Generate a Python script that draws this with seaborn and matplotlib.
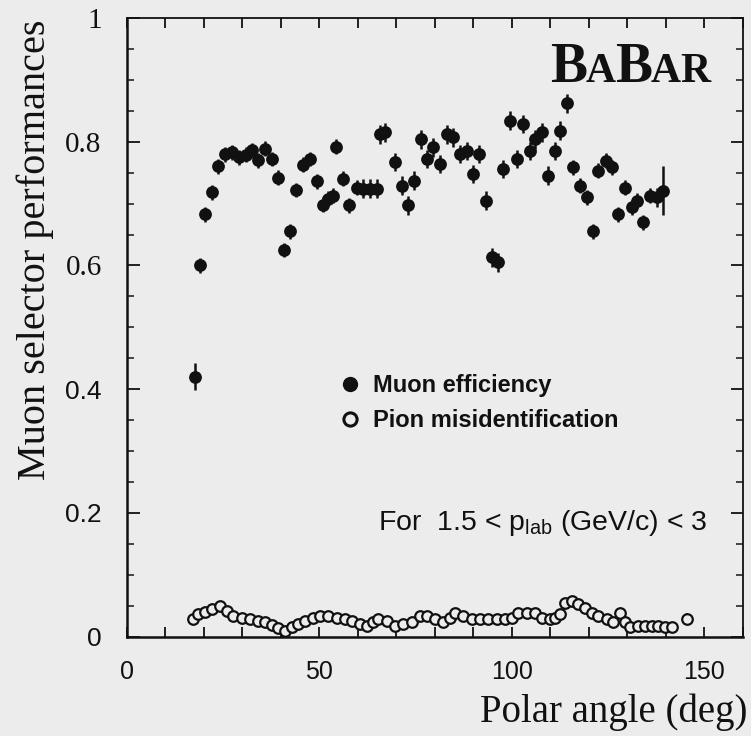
import matplotlib
matplotlib.use("Agg")
import matplotlib.pyplot as plt
import seaborn as sns
import pandas as pd
from matplotlib.lines import Line2D
from matplotlib.ticker import MultipleLocator, FixedLocator

# ---------------- data ----------------
muon_angle = [17.7, 19.1, 20.4, 22.2, 23.8, 25.5, 27.3, 29.2, 31.0, 32.5,
              34.0, 35.9, 37.7, 39.2, 40.9, 42.4, 44.0, 45.9, 47.6, 49.3,
              50.9, 52.4, 53.6, 54.3, 56.1, 57.8, 59.7, 61.5, 63.3, 65.0,
              65.8, 67.1, 69.7, 71.4, 73.1, 74.7, 76.4, 77.9, 79.6, 81.4,
              83.1, 84.8, 86.6, 88.3, 89.9, 91.6, 93.2, 94.8, 96.5, 97.8,
              99.6, 101.3, 103.0, 104.8, 106.1, 107.8, 109.5, 111.2, 112.6, 114.3,
              116.0, 117.7, 119.5, 121.0, 122.5, 124.5, 126.0, 127.7, 129.4, 131.2,
              132.5, 134.2, 135.9, 137.7, 139.4]
muon_eff = [0.420, 0.600, 0.683, 0.718, 0.760, 0.780, 0.783, 0.775, 0.779, 0.786,
            0.770, 0.789, 0.772, 0.742, 0.625, 0.655, 0.722, 0.763, 0.772, 0.736,
            0.698, 0.708, 0.713, 0.792, 0.740, 0.697, 0.726, 0.724, 0.724, 0.724,
            0.812, 0.815, 0.767, 0.729, 0.697, 0.737, 0.804, 0.772, 0.791, 0.764,
            0.812, 0.807, 0.780, 0.785, 0.748, 0.780, 0.705, 0.613, 0.605, 0.756,
            0.834, 0.772, 0.829, 0.785, 0.804, 0.815, 0.745, 0.785, 0.818, 0.862,
            0.759, 0.729, 0.710, 0.655, 0.753, 0.769, 0.759, 0.683, 0.726, 0.694,
            0.705, 0.670, 0.713, 0.710, 0.721]
muon_err = [0.022, 0.012, 0.012, 0.012, 0.012, 0.012, 0.012, 0.012, 0.012, 0.012,
            0.012, 0.012, 0.012, 0.012, 0.012, 0.012, 0.012, 0.012, 0.012, 0.012,
            0.012, 0.012, 0.012, 0.012, 0.012, 0.012, 0.012, 0.015, 0.015, 0.015,
            0.015, 0.015, 0.015, 0.015, 0.015, 0.015, 0.015, 0.015, 0.015, 0.015,
            0.015, 0.015, 0.015, 0.015, 0.015, 0.015, 0.015, 0.015, 0.015, 0.015,
            0.015, 0.015, 0.015, 0.015, 0.015, 0.015, 0.015, 0.015, 0.015, 0.015,
            0.012, 0.012, 0.012, 0.012, 0.012, 0.012, 0.012, 0.012, 0.012, 0.012,
            0.012, 0.012, 0.012, 0.015, 0.040]

pion_angle = [17.3, 18.6, 20.3, 22.1, 24.2, 26.0, 27.7, 29.9, 32.0, 34.2,
              35.9, 37.7, 39.4, 41.1, 42.9, 44.6, 46.3, 48.5, 50.2, 52.4,
              54.5, 56.7, 58.4, 60.6, 62.3, 63.9, 65.4, 67.5, 69.7, 71.8,
              74.0, 76.2, 77.9, 80.1, 82.2, 84.0, 85.3, 87.4, 89.6, 91.8,
              93.9, 96.1, 98.3, 100.0, 101.7, 103.9, 106.0, 107.8, 109.9, 111.2,
              112.5, 113.8, 115.6, 117.3, 119.0, 120.8, 122.5, 124.7, 126.4, 128.1,
              129.4, 130.7, 132.9, 134.6, 136.4, 138.1, 139.8, 141.6, 145.5]
pion_misid = [0.0285, 0.037, 0.040, 0.045, 0.049, 0.042, 0.034, 0.031, 0.0285, 0.026,
              0.023, 0.019, 0.0135, 0.0097, 0.015, 0.0205, 0.026, 0.031, 0.034, 0.034,
              0.031, 0.0285, 0.026, 0.0205, 0.018, 0.024, 0.0285, 0.026, 0.018, 0.0205,
              0.024, 0.034, 0.033, 0.0285, 0.024, 0.031, 0.039, 0.034, 0.0285, 0.0285,
              0.0285, 0.0285, 0.0285, 0.031, 0.038, 0.039, 0.039, 0.031, 0.0285, 0.031,
              0.037, 0.055, 0.058, 0.053, 0.047, 0.039, 0.034, 0.0285, 0.023, 0.039,
              0.023, 0.015, 0.018, 0.018, 0.018, 0.018, 0.015, 0.015, 0.0285]
pion_err = [0.005, 0.005, 0.005, 0.005, 0.005, 0.005, 0.005, 0.005, 0.005, 0.005,
            0.005, 0.005, 0.005, 0.005, 0.005, 0.005, 0.005, 0.005, 0.005, 0.005,
            0.005, 0.005, 0.005, 0.005, 0.005, 0.005, 0.005, 0.005, 0.005, 0.005,
            0.005, 0.005, 0.005, 0.005, 0.005, 0.005, 0.005, 0.005, 0.005, 0.005,
            0.005, 0.005, 0.005, 0.005, 0.005, 0.005, 0.005, 0.005, 0.005, 0.005,
            0.005, 0.006, 0.006, 0.006, 0.006, 0.006, 0.006, 0.006, 0.006, 0.006,
            0.006, 0.006, 0.006, 0.006, 0.006, 0.006, 0.006, 0.006, 0.010]

x_ticks = [0, 50, 100, 150]
x_ticklabels = ["0", "50", "100", "150"]
y_ticks = [0, 0.2, 0.4, 0.6, 0.8, 1.0]
y_ticklabels = ["0", "0.2", "0.4", "0.6", "0.8", "1"]

muon_df = pd.DataFrame({"angle": muon_angle, "eff": muon_eff, "err": muon_err})
pion_df = pd.DataFrame({"angle": pion_angle, "misid": pion_misid, "err": pion_err})

# ---------------- style ----------------
sns.set_theme(style="ticks")
plt.rcParams["font.family"] = ["Liberation Serif", "DejaVu Serif"]
plt.rcParams["mathtext.fontset"] = "custom"
plt.rcParams["mathtext.rm"] = "Liberation Sans"
plt.rcParams["mathtext.it"] = "Liberation Sans:italic"

BG = "#ececec"
INK = "#111111"
SERIF = "Liberation Serif"
SANS = "Liberation Sans"

W, H = 751, 736
fig = plt.figure(figsize=(W / 100, H / 100), dpi=100, facecolor=BG)
ax = fig.add_axes([126.7 / W, (H - 636.7) / H, (742.7 - 126.7) / W, (636.7 - 18) / H])
ax.set_facecolor(BG)

# muon efficiency
ax.errorbar(muon_df["angle"], muon_df["eff"], yerr=muon_df["err"], xerr=0.8,
            fmt="none", ecolor=INK, elinewidth=1.8, capsize=0, zorder=2)
sns.scatterplot(data=muon_df, x="angle", y="eff", color=INK, s=85,
                linewidth=0, ax=ax, zorder=3, legend=False)

# pion misidentification
ax.errorbar(pion_df["angle"], pion_df["misid"], yerr=pion_df["err"],
            fmt="none", ecolor=INK, elinewidth=1.1, capsize=0, zorder=2)
sns.scatterplot(data=pion_df, x="angle", y="misid", facecolor=BG,
                edgecolor=INK, linewidth=1.6, s=58, ax=ax, zorder=3, legend=False)

ax.set_xlim(0, 160)
ax.set_ylim(0, 1)
ax.set_xlabel("")
ax.set_ylabel("")

ax.xaxis.set_major_locator(FixedLocator(x_ticks))
ax.xaxis.set_minor_locator(MultipleLocator(10))
ax.yaxis.set_major_locator(FixedLocator(y_ticks))
ax.yaxis.set_minor_locator(MultipleLocator(0.05))
ax.set_xticks(x_ticks, labels=x_ticklabels)
ax.set_yticks(y_ticks, labels=y_ticklabels)

ax.tick_params(axis="x", which="both", direction="in", top=True, bottom=True,
               length=7, width=1.3, pad=17, labelsize=18, colors=INK)
ax.tick_params(axis="y", which="major", direction="in", left=True, right=True,
               length=9, width=1.3, pad=18, labelsize=21, colors=INK)
ax.tick_params(axis="y", which="minor", direction="in", left=True, right=True,
               length=5, width=1.2)

for lbl in ax.get_xticklabels():
    lbl.set_fontfamily(SANS)
for lbl in ax.get_yticklabels():
    if lbl.get_text() in ("1", "0.8", "0.6"):
        lbl.set_fontfamily(SERIF)
    else:
        lbl.set_fontfamily(SANS)
        lbl.set_fontsize(19)

for side in ("left", "bottom"):
    ax.spines[side].set_linewidth(1.8)
for side in ("top", "right"):
    ax.spines[side].set_linewidth(1.3)
for sp in ax.spines.values():
    sp.set_color(INK)

# axis titles
fig.text(35 / W, 1 - 250 / H, "Muon selector performances", rotation=90,
         ha="center", va="center", fontsize=29, family=SERIF, color=INK)
fig.text(747 / W, 1 - 712 / H, "Polar angle (deg)", ha="right", va="center",
         fontsize=28, family=SERIF, color=INK)

# BaBar logo (small caps), letters placed one after another
renderer = fig.canvas.get_renderer()
xpos = 550
for ch, fs in [("B", 40), ("A", 30), ("B", 40), ("A", 30), ("R", 30)]:
    t = fig.text(xpos / W, 1 - 82 / H, ch, ha="left", va="baseline", fontsize=fs,
                 family=SERIF, weight="bold", color=INK)
    bb = t.get_window_extent(renderer)
    xpos = bb.x1 - 1

# legend
handles = [Line2D([], [], ls="none", marker="o", color=INK, markersize=10),
           Line2D([], [], ls="none", marker="o", markerfacecolor="none",
                  markeredgecolor=INK, markeredgewidth=2.2, markersize=9.5)]
leg = ax.legend(handles, ["Muon efficiency", "Pion misidentification"],
                loc="upper left", bbox_to_anchor=(0.3440, 0.4245), frameon=False,
                borderpad=0, borderaxespad=0, handlelength=0.95, handletextpad=0.5,
                labelspacing=0.52, prop={"family": SANS, "size": 17, "weight": "bold"})
for t in leg.get_texts():
    t.set_color(INK)

# kinematic range annotation
ax.text((378 - 126.7) / 616, (636.7 - 523) / 618.7,
        r"For  1.5 < $\mathrm{p_{lab}}$ (GeV/c) < 3", transform=ax.transAxes,
        ha="left", va="center", fontsize=20.5, family=SANS, color=INK)

fig.savefig("out.png", dpi=100, facecolor=BG)
